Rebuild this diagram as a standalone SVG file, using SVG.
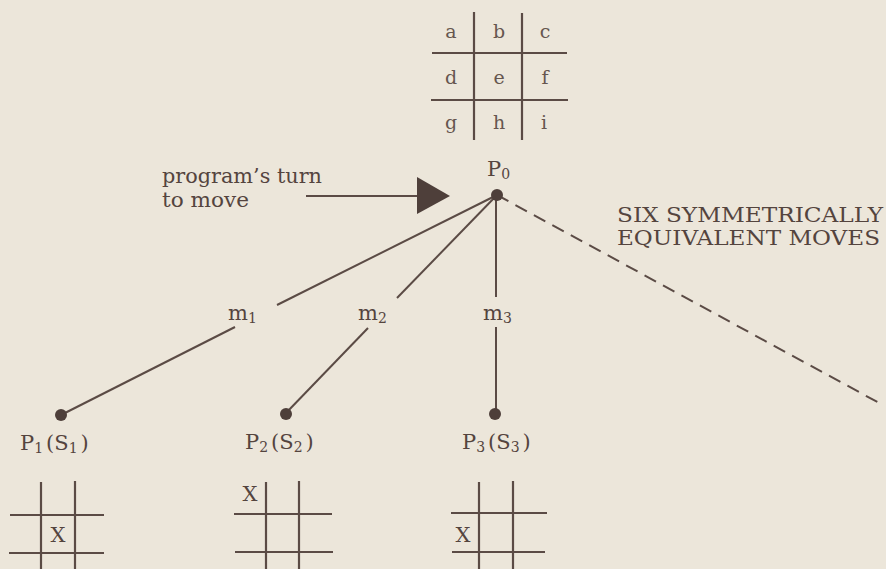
<svg xmlns="http://www.w3.org/2000/svg" width="886" height="569" viewBox="0 0 886 569">
<style>
.bg{fill:#ece6da}
.ln{stroke:#5b4b45;stroke-width:2;fill:none}
.gl{stroke:#5b4b45;stroke-width:2.2;fill:none}
.dash{stroke:#5b4b45;stroke-width:2;fill:none;stroke-dasharray:13 8}
.dot{fill:#4e3f3a}
.t{font-family:"DejaVu Serif","Liberation Serif",serif;fill:#54443e}
.lab{font-size:21px}
.sub{font-size:14px}
.cell{font-size:19px;text-anchor:middle;fill:#66564f}
</style>
<rect class="bg" x="0" y="0" width="886" height="569"/>

<g id="board">
  <line class="gl" x1="474" y1="12" x2="474" y2="140"/>
  <line class="gl" x1="522" y1="13" x2="522" y2="140"/>
  <line class="gl" x1="432" y1="53" x2="567" y2="53"/>
  <line class="gl" x1="431" y1="100" x2="568" y2="100"/>
  <text class="t cell" x="451" y="38">a</text>
  <text class="t cell" x="499" y="38">b</text>
  <text class="t cell" x="545" y="38">c</text>
  <text class="t cell" x="451" y="84">d</text>
  <text class="t cell" x="499" y="84">e</text>
  <text class="t cell" x="545" y="84">f</text>
  <text class="t cell" x="451" y="129">g</text>
  <text class="t cell" x="499" y="129">h</text>
  <text class="t cell" x="544" y="129">i</text>
</g>

<g id="turn-label">
  <text class="t lab" x="162" y="183" textLength="160" lengthAdjust="spacingAndGlyphs">program’s turn</text>
  <text class="t lab" x="162" y="207" textLength="87" lengthAdjust="spacingAndGlyphs">to move</text>
  <line class="ln" x1="306" y1="196" x2="418" y2="196"/>
  <polygon points="417,177 417,214 450,196" fill="#4e3f3a"/>
</g>

<g id="symmetric-label">
  <text class="t lab" x="617" y="222" textLength="266" lengthAdjust="spacingAndGlyphs">SIX SYMMETRICALLY</text>
  <text class="t lab" x="617" y="245" textLength="263" lengthAdjust="spacingAndGlyphs">EQUIVALENT MOVES</text>
</g>

<g id="connectors">
  <line class="ln" x1="497" y1="195" x2="277" y2="305"/>
  <line class="ln" x1="235" y1="327" x2="61" y2="415"/>
  <line class="ln" x1="497" y1="195" x2="397" y2="298"/>
  <line class="ln" x1="368" y1="328" x2="286" y2="413"/>
  <line class="ln" x1="496" y1="195" x2="496" y2="297"/>
  <line class="ln" x1="496" y1="327" x2="496" y2="413"/>
  <line class="dash" x1="497" y1="195" x2="881" y2="404"/>
  <text class="t lab" x="228" y="320">m<tspan class="sub" dy="3">1</tspan></text>
  <text class="t lab" x="358" y="320">m<tspan class="sub" dy="3">2</tspan></text>
  <text class="t lab" x="483" y="320">m<tspan class="sub" dy="3">3</tspan></text>
</g>

<g id="P0">
  <circle class="dot" cx="497" cy="195" r="6"/>
  <text class="t lab" x="487" y="176">P<tspan class="sub" dy="3">0</tspan></text>
</g>

<g id="P1">
  <circle class="dot" cx="61" cy="415" r="6"/>
  <text class="t lab" x="20" y="450">P<tspan class="sub" dy="3">1</tspan><tspan dx="3" dy="-3">(S</tspan><tspan class="sub" dy="3">1</tspan><tspan dx="3" dy="-3">)</tspan></text>
  <line class="gl" x1="41" y1="482" x2="41" y2="569"/>
  <line class="gl" x1="75" y1="481" x2="75" y2="569"/>
  <line class="gl" x1="10" y1="515" x2="104" y2="515"/>
  <line class="gl" x1="9" y1="553" x2="104" y2="553"/>
  <text class="t lab" x="58" y="542" text-anchor="middle">X</text>
</g>

<g id="P2">
  <circle class="dot" cx="286" cy="414" r="6"/>
  <text class="t lab" x="245" y="449">P<tspan class="sub" dy="3">2</tspan><tspan dx="3" dy="-3">(S</tspan><tspan class="sub" dy="3">2</tspan><tspan dx="3" dy="-3">)</tspan></text>
  <line class="gl" x1="266" y1="482" x2="266" y2="569"/>
  <line class="gl" x1="299" y1="481" x2="299" y2="569"/>
  <line class="gl" x1="234" y1="514" x2="332" y2="514"/>
  <line class="gl" x1="235" y1="552" x2="333" y2="552"/>
  <text class="t lab" x="250" y="501" text-anchor="middle">X</text>
</g>

<g id="P3">
  <circle class="dot" cx="495" cy="414" r="6"/>
  <text class="t lab" x="462" y="449">P<tspan class="sub" dy="3">3</tspan><tspan dx="3" dy="-3">(S</tspan><tspan class="sub" dy="3">3</tspan><tspan dx="3" dy="-3">)</tspan></text>
  <line class="gl" x1="479" y1="482" x2="479" y2="569"/>
  <line class="gl" x1="513" y1="481" x2="513" y2="569"/>
  <line class="gl" x1="451" y1="513" x2="547" y2="513"/>
  <line class="gl" x1="452" y1="552" x2="545" y2="552"/>
  <text class="t lab" x="463" y="542" text-anchor="middle">X</text>
</g>
</svg>
